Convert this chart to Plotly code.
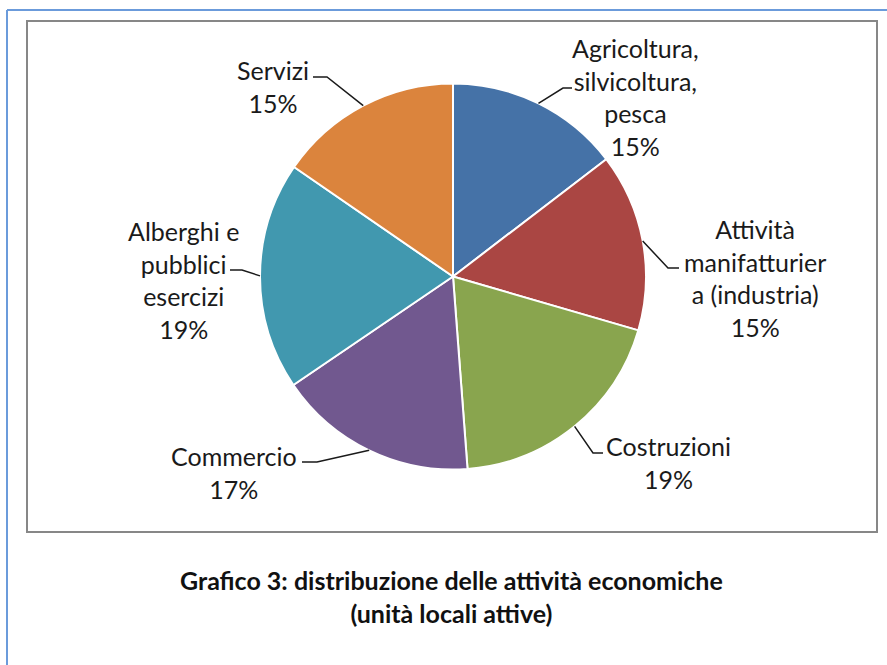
import math
import plotly.graph_objects as go

W, H = 887, 665

# ── Dati ──────────────────────────────────────────────────────────────────────
categorie = [
    "Agricoltura,<br>silvicoltura,<br>pesca",
    "Attività<br>manifatturier<br>a (industria)",
    "Costruzioni",
    "Commercio",
    "Alberghi e<br>pubblici<br>esercizi",
    "Servizi",
]
valori = [14.6, 14.9, 19.3, 16.7, 19.1, 15.4]
colori = ["#4572A7", "#AA4643", "#89A54E", "#71588F", "#4198AF", "#DB843D"]
titolo = "Grafico 3: distribuzione delle attività economiche<br>(unità locali attive)"

# ── Geometria (pixel) ─────────────────────────────────────────────────────────
CX, CY, R = 453, 276.5, 193
# centro del testo, gomito e fine della linea guida per ogni etichetta
pos_etichette = [
    dict(testo=(635, 97), gomito=(563, 88), fine=(572, 88)),
    dict(testo=(755, 278), gomito=(668, 268), fine=(679, 268)),
    dict(testo=(668, 462), gomito=(593, 453), fine=(603, 453)),
    dict(testo=(234, 472), gomito=(317, 462), fine=(302, 462)),
    dict(testo=(183, 280), gomito=(242, 270), fine=(230, 270)),
    dict(testo=(273, 86), gomito=(327, 77), fine=(313, 77)),
]


def px(x):
    return x / W


def py(y):
    return 1 - y / H


FONT = "Lato"
fig = go.Figure(go.Pie(
    labels=[c.replace("<br>", " ") for c in categorie],
    values=valori,
    sort=False,
    direction="clockwise",
    rotation=0,
    marker=dict(colors=colori, line=dict(color="white", width=2)),
    textinfo="none",
    textposition="none",
    hoverinfo="label+percent",
    domain=dict(x=[px(CX - R), px(CX + R)], y=[py(CY + R), py(CY - R)]),
    showlegend=False,
))

# ── Etichette e linee guida ───────────────────────────────────────────────────
tot = sum(valori)
cum = 0
annotazioni, forme = [], []
for cat, v, p in zip(categorie, valori, pos_etichette):
    mid = (cum + v / 2) / tot * 2 * math.pi
    cum += v
    ex = CX + R * math.sin(mid)
    ey = CY - R * math.cos(mid)
    perc = round(v / tot * 100)
    tx, ty = p["testo"]
    annotazioni.append(dict(
        x=px(tx), y=py(ty), xref="paper", yref="paper",
        text=f"{cat}<br>{perc}%", showarrow=False,
        xanchor="center", yanchor="middle", align="center",
        font=dict(family=FONT, size=25, color="#1a1a1a"),
    ))
    gx, gy = p["gomito"]
    fx, fy = p["fine"]
    forme.append(dict(
        type="path", xref="paper", yref="paper",
        path=f"M {px(ex)} {py(ey)} L {px(gx)} {py(gy)} L {px(fx)} {py(fy)}",
        line=dict(color="#1a1a1a", width=1.5),
    ))

# ── Cornici ───────────────────────────────────────────────────────────────────
forme.append(dict(type="rect", xref="paper", yref="paper",
                  x0=px(27), x1=px(877), y0=py(532), y1=py(21),
                  line=dict(color="#878787", width=2)))
forme.append(dict(type="line", xref="paper", yref="paper",
                  x0=px(7), x1=px(7), y0=py(10), y1=0,
                  line=dict(color="#6B9BDB", width=2)))
forme.append(dict(type="line", xref="paper", yref="paper",
                  x0=px(7), x1=1, y0=py(10), y1=py(10),
                  line=dict(color="#6B9BDB", width=2)))

# ── Didascalia ────────────────────────────────────────────────────────────────
annotazioni.append(dict(
    x=px(451), y=py(596), xref="paper", yref="paper",
    text=f"<b>{titolo}</b>", showarrow=False,
    xanchor="center", yanchor="middle", align="center",
    font=dict(family=FONT, size=25, color="#111111"),
))

fig.update_layout(
    width=W, height=H,
    margin=dict(l=0, r=0, t=0, b=0),
    paper_bgcolor="white",
    plot_bgcolor="white",
    annotations=annotazioni,
    shapes=forme,
)
fig.write_html("out.html", config=dict(displayModeBar=False),
               post_script="document.body.style.margin = '0';")
